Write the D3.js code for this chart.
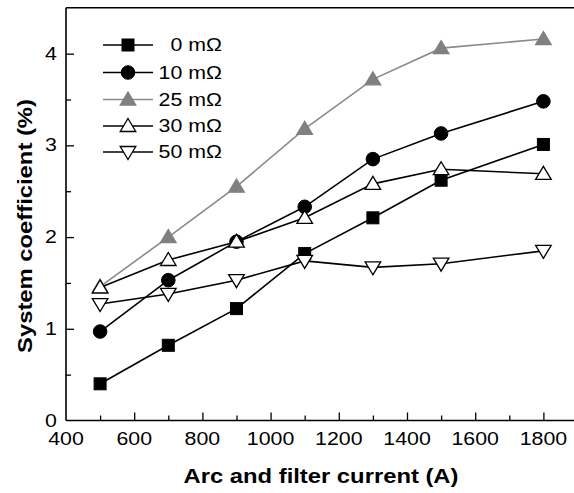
<!DOCTYPE html>
<html><head><meta charset="utf-8">
<script src="https://cdn.jsdelivr.net/npm/d3@7"></script>
<style>body{margin:0;background:#fff;} text{font-family:"Liberation Sans",Arial,sans-serif;}</style>
</head><body>
<svg id="c" width="574" height="493"></svg>
<script>
const currents = [500, 700, 900, 1100, 1300, 1500, 1800];
const s0  = [0.40, 0.82, 1.22, 1.82, 2.21, 2.62, 3.01];
const s10 = [0.97, 1.53, 1.95, 2.33, 2.85, 3.13, 3.48];
const s25 = [1.46, 2.00, 2.55, 3.18, 3.72, 4.06, 4.16];
const s30 = [1.45, 1.75, 1.95, 2.21, 2.58, 2.74, 2.69];
const s50 = [1.27, 1.38, 1.53, 1.74, 1.67, 1.71, 1.85];
const seriesNames = ["0 mΩ", "10 mΩ", "25 mΩ", "30 mΩ", "50 mΩ"];
const xTicks = [400, 600, 800, 1000, 1200, 1400, 1600, 1800];
const yTicks = [0, 1, 2, 3, 4];

const series = [
  {name: seriesNames[0], values: s0,  shape: "square",  fill: "#000", stroke: "#000", line: "#000"},
  {name: seriesNames[1], values: s10, shape: "circle",  fill: "#000", stroke: "#000", line: "#000"},
  {name: seriesNames[2], values: s25, shape: "up",      fill: "#808080", stroke: "#808080", line: "#8a8a8a"},
  {name: seriesNames[3], values: s30, shape: "up",      fill: "#fff", stroke: "#000", line: "#000"},
  {name: seriesNames[4], values: s50, shape: "down",    fill: "#fff", stroke: "#000", line: "#000"}
];

const SX = 1.22; // horizontal stretch of the reference's lettering

const svg = d3.select("#c");
const x = d3.scaleLinear().domain([400, 1900]).range([66, 577.5]);
const y = d3.scaleLinear().domain([0, 4.5]).range([420.5, 7.8]);

function stretchedText(g, tx, ty, str, size, anchor, weight, rot) {
  return g.append("text")
    .attr("transform", `translate(${tx},${ty})` + (rot ? ` rotate(${rot})` : "") + ` scale(${SX},1)`)
    .attr("text-anchor", anchor).attr("font-size", size)
    .attr("font-weight", weight || "normal").text(str);
}

// frame top
svg.append("line").attr("x1", 66).attr("x2", 580).attr("y1", y(4.5)).attr("y2", y(4.5))
  .attr("stroke", "#000").attr("stroke-width", 1.6);

// x axis
const xAxis = svg.append("g").attr("transform", `translate(0,${y(0)})`)
  .call(d3.axisBottom(x).tickValues(d3.range(400, 1900, 100)).tickSize(-5).tickFormat(""));
xAxis.selectAll(".tick line").filter(d => d % 200 === 0).attr("y2", -8);
xAxis.selectAll(".tick").filter(d => d === 400).remove();
xAxis.select(".domain").attr("d", `M66,0H580`).attr("stroke-width", 1.6);
xAxis.selectAll(".tick line").attr("stroke-width", 1.3);
const xl = svg.append("g");
xTicks.forEach(d => stretchedText(xl, x(d), 445, d, 17.5, "middle"));

// y axis
const yAxis = svg.append("g").attr("transform", `translate(66,0)`)
  .call(d3.axisLeft(y).tickValues(d3.range(0, 4.5, 0.5)).tickSize(-5).tickFormat(""));
yAxis.selectAll(".tick line").filter(d => Math.abs(d - Math.round(d)) < 1e-6).attr("x2", 8);
yAxis.selectAll(".tick").filter(d => d === 0).remove();
yAxis.select(".domain").attr("d", `M0,${y(0)}V${y(4.5)}`).attr("stroke-width", 1.6);
yAxis.selectAll(".tick line").attr("stroke-width", 1.3);
const yl = svg.append("g");
yTicks.forEach(d => stretchedText(yl, 57, y(d) + 6, d, 17.5, "end"));

// titles
stretchedText(svg, 321, 483, "Arc and filter current (A)", 19.5, "middle", "bold");
stretchedText(svg, 32, 226, "System coefficient (%)", 19.5, "middle", "bold", -90);

function drawMarker(g, shape, cx, cy, fill, stroke) {
  if (shape === "square") {
    g.append("rect").attr("x", cx - 6).attr("y", cy - 6).attr("width", 12).attr("height", 12)
      .attr("fill", fill).attr("stroke", stroke).attr("stroke-width", 1);
  } else if (shape === "circle") {
    g.append("circle").attr("cx", cx).attr("cy", cy).attr("r", 6.8).attr("fill", fill).attr("stroke", stroke);
  } else if (shape === "up") {
    g.append("path").attr("d", `M${cx},${cy - 7.5}L${cx + 7.8},${cy + 5.5}L${cx - 7.8},${cy + 5.5}Z`)
      .attr("fill", fill).attr("stroke", stroke).attr("stroke-width", 1.3);
  } else {
    g.append("path").attr("d", `M${cx},${cy + 7.5}L${cx + 7.8},${cy - 5.5}L${cx - 7.8},${cy - 5.5}Z`)
      .attr("fill", fill).attr("stroke", stroke).attr("stroke-width", 1.3);
  }
}

const line = d3.line().x((d, i) => x(currents[i])).y(d => y(d));
series.forEach(s => {
  const g = svg.append("g");
  g.append("path").attr("d", line(s.values)).attr("fill", "none")
    .attr("stroke", s.line).attr("stroke-width", 1.6);
  s.values.forEach((v, i) => drawMarker(g, s.shape, x(currents[i]), y(v), s.fill, s.stroke));
});

// legend
const legY = [45, 72.5, 99.5, 126, 152];
series.forEach((s, i) => {
  const g = svg.append("g");
  g.append("line").attr("x1", 103).attr("x2", 153).attr("y1", legY[i]).attr("y2", legY[i])
    .attr("stroke", s.line).attr("stroke-width", 1.6);
  drawMarker(g, s.shape, 128, legY[i], s.fill, s.stroke);
  stretchedText(g, 222, legY[i] + 6, s.name, 17.5, "end");
});
</script>
</body></html>
